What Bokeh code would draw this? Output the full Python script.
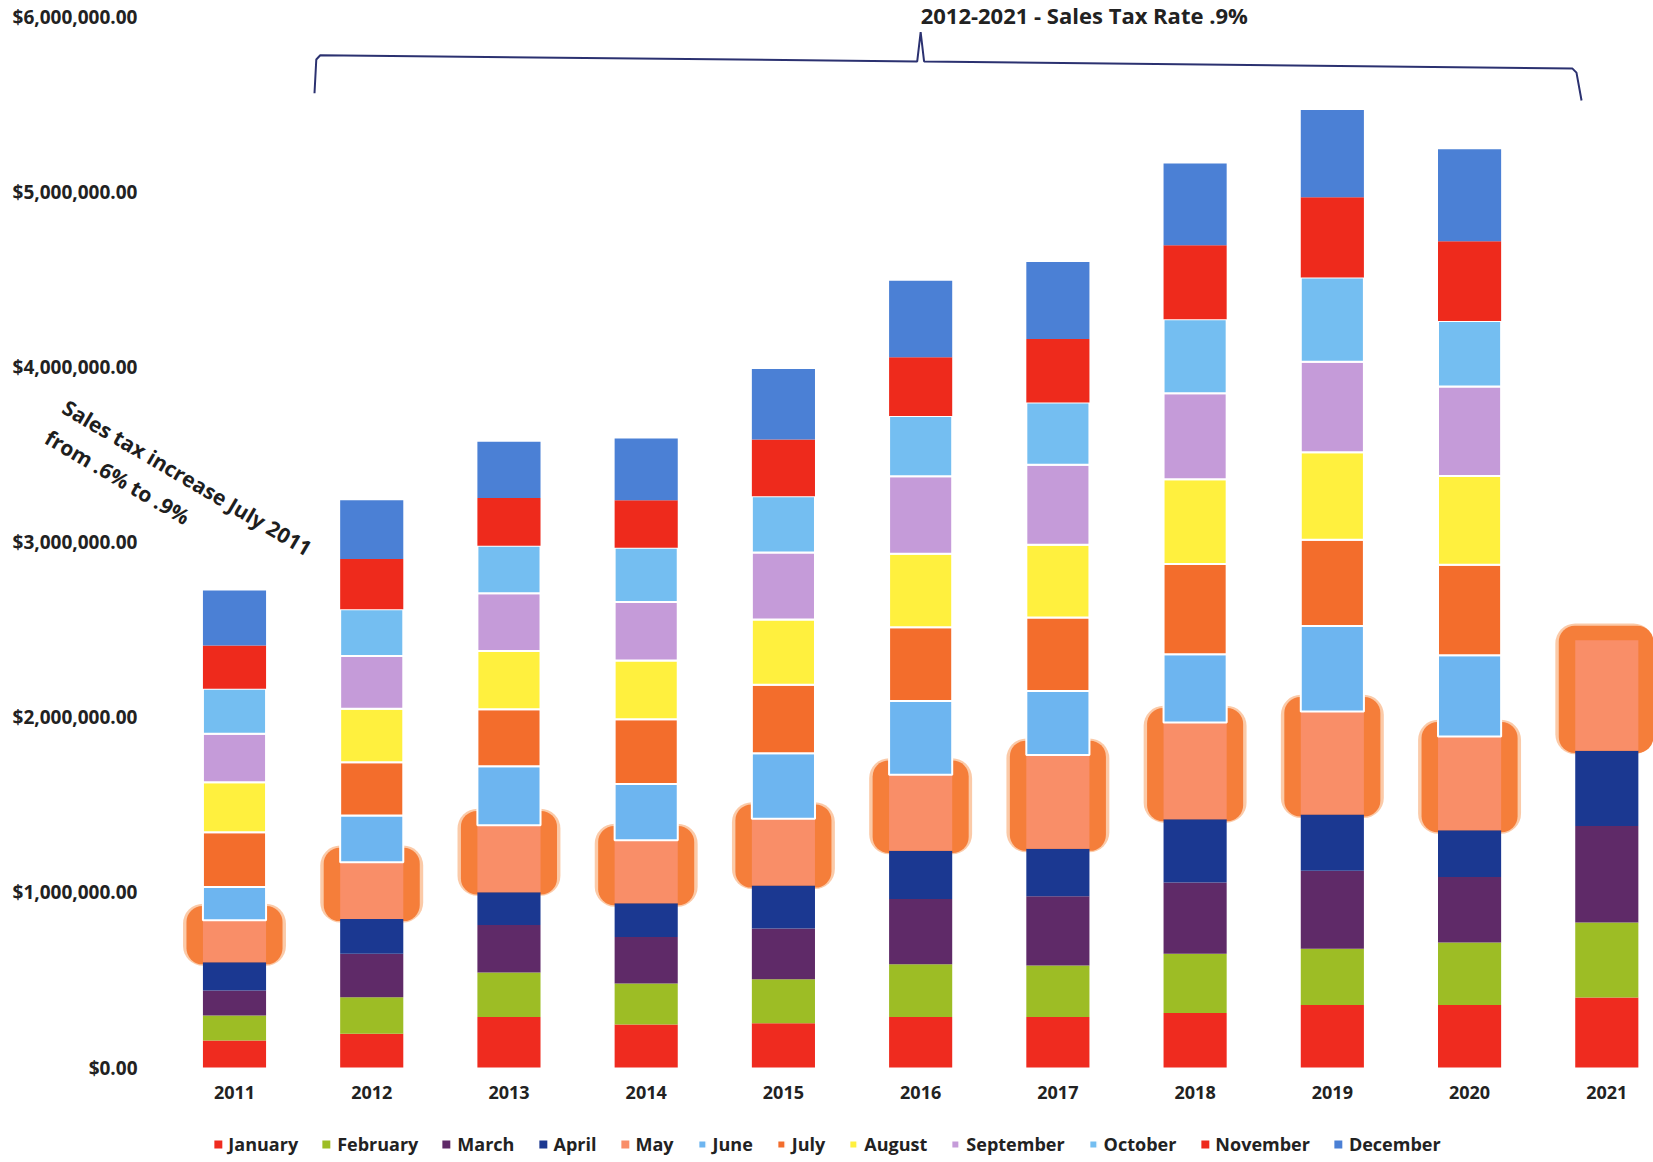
import numpy as np
from bokeh.plotting import figure
from bokeh.models import Range1d, FixedTicker, NumeralTickFormatter, Legend, LegendItem, Label
from bokeh.embed import file_html
from bokeh.resources import INLINE

# ---------------- data ----------------
years = [2011, 2012, 2013, 2014, 2015, 2016, 2017, 2018, 2019, 2020, 2021]
year_labels = ["2011", "2012", "2013", "2014", "2015", "2016", "2017", "2018", "2019", "2020", "2021"]
months = ["January", "February", "March", "April", "May", "June", "July",
          "August", "September", "October", "November", "December"]

january   = [154000, 192000, 289000, 245000, 253000, 289000, 288000, 311000, 357000, 357000, 400000]
february  = [143000, 209000, 253000, 235000, 251000, 300000, 294000, 339000, 321000, 357000, 428000]
march     = [143000, 248000, 272000, 265000, 290000, 373000, 396000, 406000, 446000, 374000, 551000]
april     = [161000, 199000, 186000, 193000, 245000, 275000, 271000, 362000, 321000, 267000, 429000]
may       = [239000, 324000, 383000, 359000, 381000, 434000, 535000, 552000, 588000, 535000, 632000]
june      = [190000, 267000, 337000, 321000, 374000, 422000, 366000, 389000, 488000, 464000, None]
july      = [313000, 304000, 326000, 371000, 391000, 421000, 419000, 515000, 492000, 517000, None]
august    = [286000, 305000, 332000, 335000, 373000, 419000, 416000, 484000, 500000, 506000, None]
september = [276000, 302000, 329000, 334000, 382000, 443000, 457000, 491000, 517000, 511000, None]
october   = [257000, 267000, 272000, 309000, 321000, 343000, 355000, 423000, 481000, 374000, None]
november  = [247000, 286000, 272000, 272000, 324000, 336000, 362000, 422000, 457000, 456000, None]
december  = [314000, 336000, 322000, 352000, 403000, 437000, 440000, 467000, 499000, 524000, None]

y_ticks = [0, 1000000, 2000000, 3000000, 4000000, 5000000, 6000000]

series = [january, february, march, april, may, june, july,
          august, september, october, november, december]
colors = ["#EF2B1F", "#9DBD25", "#5F2A68", "#1B3891", "#F98E68", "#6DB5F0",
          "#F36D2C", "#FFF03E", "#C59BD9", "#74BEF1", "#EE2A1C", "#4B80D5"]
bordered = {"June", "July", "August", "September", "October"}

# ---------------- figure ----------------
W, H = 1653, 1162
PX_PER_YEAR = 137.23
PX_PER_M = 175.15
ZERO_PX = 1067
x0 = 2011 - 234 / PX_PER_YEAR
x1 = x0 + W / PX_PER_YEAR
y1 = ZERO_PX / PX_PER_M * 1e6
y0 = -(H - ZERO_PX) / PX_PER_M * 1e6

p = figure(width=W, height=H, output_backend="svg", toolbar_location=None,
           x_range=Range1d(x0, x1), y_range=Range1d(y0, y1),
           min_border_left=0, min_border_right=0, min_border_top=0, min_border_bottom=0)
p.outline_line_color = None
p.grid.visible = False
p.background_fill_color = "white"
p.border_fill_color = "white"

arr = [np.array([np.nan if v is None else v for v in s], dtype=float) for s in series]
tops = np.cumsum(np.vstack(arr), axis=0)
bottoms = np.vstack([np.zeros(len(years)), tops[:-1]])

# highlight glow around May
may_idx = 4
p.vbar(x=years, width=0.75, bottom=bottoms[may_idx] - 20000, top=tops[may_idx] + 95000,
       fill_color="#F7893F", fill_alpha=0.45, line_color=None, border_radius=20)
p.vbar(x=years, width=0.70, bottom=bottoms[may_idx] - 12000, top=tops[may_idx] + 82000,
       fill_color="#F57E3A", line_color=None, border_radius=16)

renderers = []
for i, m in enumerate(months):
    r = p.vbar(x=years, width=0.46, bottom=bottoms[i], top=tops[i],
               fill_color=colors[i],
               line_color="white" if m in bordered else None, line_width=2)
    renderers.append(r)

# axes (labels drawn inward so the whole canvas is the plotting frame)
p.yaxis.ticker = FixedTicker(ticks=y_ticks)
p.yaxis.formatter = NumeralTickFormatter(format="$0,0.00")
p.xaxis.ticker = FixedTicker(ticks=years)
p.xaxis.major_label_overrides = {y: l for y, l in zip(years, year_labels)}
for ax in (p.xaxis, p.yaxis):
    ax.axis_line_color = None
    ax.major_tick_line_color = None
    ax.minor_tick_line_color = None
    ax.major_tick_out = 0
    ax.major_tick_in = 0
    ax.major_label_text_font = "Open Sans"
    ax.major_label_text_font_style = "bold"
    ax.major_label_text_color = "#222222"
p.yaxis.major_label_text_font_size = "19px"
p.yaxis.major_label_standoff = -137
p.xaxis.major_label_text_font_size = "18px"
p.xaxis.major_label_standoff = -(H - ZERO_PX) + 18

# legend
legend = Legend(items=[LegendItem(label=m, renderers=[r]) for m, r in zip(months, renderers)],
                orientation="horizontal", location="bottom_center", margin=6,
                glyph_width=10, glyph_height=10, label_standoff=6, spacing=23, padding=4,
                border_line_color=None, background_fill_alpha=0,
                label_text_font="Open Sans", label_text_font_style="bold",
                label_text_font_size="18px", label_text_color="#222222")
p.add_layout(legend)

# bracket over 2012-2021
bx = [2011.583, 2011.596, 2011.625, 2015.975, 2016.0, 2016.025, 2020.75, 2020.779, 2020.816]
by = [5.562e6, 5.755e6, 5.779e6, 5.744e6, 5.911e6, 5.744e6, 5.703e6, 5.68e6, 5.521e6]
p.line(bx, by, line_color="#2B3170", line_width=2)

p.add_layout(Label(x=2016.0, y=6.008e6, text="2012-2021  - Sales Tax Rate .9%",
                   text_font="Open Sans", text_font_style="bold", text_font_size="22px",
                   text_color="#222222", text_align="left", text_baseline="middle"))

ang = -30.5 * np.pi / 180
p.add_layout(Label(x=2009.761, y=3.780e6, text="Sales tax increase July 2011", angle=ang,
                   text_font="Open Sans", text_font_style="bold", text_font_size="21px",
                   text_color="#1E1E1E", text_align="left", text_baseline="middle"))
p.add_layout(Label(x=2009.635, y=3.608e6, text="from .6% to .9%", angle=ang,
                   text_font="Open Sans", text_font_style="bold", text_font_size="21px",
                   text_color="#1E1E1E", text_align="left", text_baseline="middle"))

open("out.html", "w").write(file_html(p, INLINE))
